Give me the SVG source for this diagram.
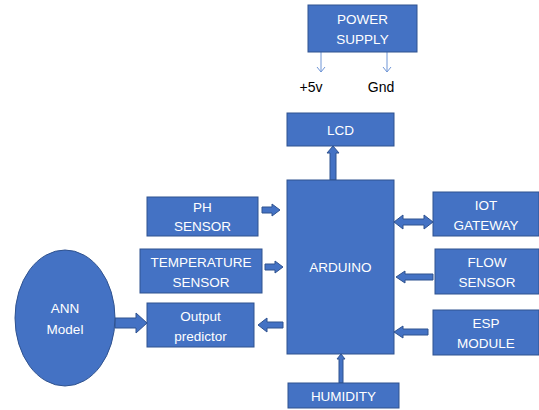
<svg xmlns="http://www.w3.org/2000/svg" width="539" height="410" viewBox="0 0 539 410">
<defs>
<style>
.box{fill:#4472C4;stroke:#2F528F;stroke-width:1}
.t{font-family:"Liberation Sans",Arial,sans-serif;font-size:13.5px;fill:#fff;text-anchor:middle}
.k{font-family:"Liberation Sans",Arial,sans-serif;font-size:14px;fill:#000;text-anchor:middle}
.ar{fill:#4472C4;stroke:#2F528F;stroke-width:1}
.thin{stroke:#6F95D6;stroke-width:1;fill:none}
</style>
<marker id="open" markerWidth="10" markerHeight="10" refX="8" refY="5" orient="auto" markerUnits="userSpaceOnUse" viewBox="0 0 10 10">
<path d="M3,1 L8,5 L3,9" fill="none" stroke="#6F95D6" stroke-width="1"/>
</marker>
</defs>
<rect width="539" height="410" fill="#fff"/>
<g id="connectors">
<line class="thin" x1="321" y1="52" x2="321" y2="72" marker-end="url(#open)"/>
<line class="thin" x1="387" y1="52" x2="387" y2="72" marker-end="url(#open)"/>
<polygon class="ar" points="330,180 330,153 327,153 333,146 339,153 336,153 336,180"/>
<polygon class="ar" points="339,383 339,359 337,359 341,354 345,359 343,359 343,383"/>
<polygon class="ar" points="262,207 272,207 272,204 280,210 272,216 272,213 262,213"/>
<polygon class="ar" points="265,264 275,264 275,261 283,267 275,273 275,270 265,270"/>
<polygon class="ar" points="283,322 267,322 267,318 258,325 267,332 267,328 283,328"/>
<polygon class="ar" points="394,222 403,215 403,219 424,219 424,215 433,222 424,229 424,225 403,225 403,229"/>
<polygon class="ar" points="433,274 405,274 405,271 396,277 405,283 405,280 433,280"/>
<polygon class="ar" points="428,329 403,329 403,326 394,332 403,338 403,335 428,335"/>
<polygon class="ar" points="115,318 136,318 136,313 147,323 136,333 136,328 115,328"/>
</g>
<g id="power"><rect class="box" x="308" y="5" width="109" height="47"/><text class="t" x="362.5" y="24">POWER</text><text class="t" x="362.5" y="44">SUPPLY</text></g>
<g id="v5"><text class="k" x="311" y="92">+5v</text></g>
<g id="gnd"><text class="k" x="381" y="92">Gnd</text></g>
<g id="lcd"><rect class="box" x="287" y="113" width="107" height="33"/><text class="t" x="340.5" y="135">LCD</text></g>
<g id="arduino"><rect class="box" x="287" y="180" width="107" height="174"/><text class="t" x="340.5" y="272">ARDUINO</text></g>
<g id="humidity"><rect class="box" x="288" y="383" width="111" height="25"/><text class="t" x="343.5" y="401">HUMIDITY</text></g>
<g id="ph"><rect class="box" x="147" y="197" width="111" height="39"/><text class="t" x="202.5" y="212">PH</text><text class="t" x="202.5" y="231">SENSOR</text></g>
<g id="temp"><rect class="box" x="140" y="249" width="122" height="44"/><text class="t" x="201" y="267">TEMPERATURE</text><text class="t" x="201" y="287">SENSOR</text></g>
<g id="output"><rect class="box" x="147" y="303" width="107" height="44"/><text class="t" x="200.5" y="321">Output</text><text class="t" x="200.5" y="341">predictor</text></g>
<g id="ann"><ellipse class="box" cx="65" cy="318" rx="50" ry="68"/><text class="t" x="65" y="313">ANN</text><text class="t" x="65" y="334">Model</text></g>
<g id="iot"><rect class="box" x="433" y="192" width="106" height="44"/><text class="t" x="486" y="210">IOT</text><text class="t" x="486" y="230">GATEWAY</text></g>
<g id="flow"><rect class="box" x="435" y="249" width="104" height="45"/><text class="t" x="487" y="267">FLOW</text><text class="t" x="487" y="287">SENSOR</text></g>
<g id="esp"><rect class="box" x="433" y="310" width="106" height="45"/><text class="t" x="486" y="328">ESP</text><text class="t" x="486" y="348">MODULE</text></g>
</svg>
